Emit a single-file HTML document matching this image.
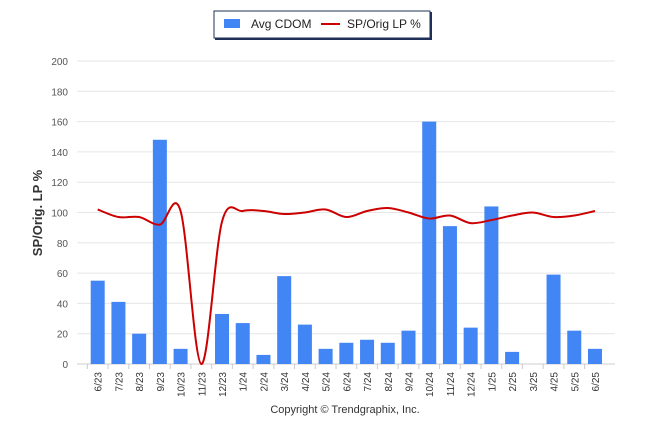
<!DOCTYPE html>
<html><head><meta charset="utf-8"><style>
body{margin:0;background:#fff;font-family:"Liberation Sans",sans-serif;}
svg{display:block}
</style></head><body>
<svg id="chart" width="646" height="434">
<g>
<rect x="215" y="12" width="217" height="28" fill="#1f2f57"/>
<rect x="214" y="11" width="216" height="27" fill="#fff" stroke="#1f2f57" stroke-width="1"/>
<rect x="224" y="19" width="16" height="9" fill="#4285f4"/>
<text x="251" y="28" font-size="12" fill="#222">Avg CDOM</text>
<line x1="321" y1="24" x2="340" y2="24" stroke="#cc0000" stroke-width="2"/>
<text x="347" y="28" font-size="12" fill="#222">SP/Orig LP %</text>
</g>
<g id="grid"></g><g id="bars"></g><g id="line"></g><g id="xlabels"></g>
<text transform="translate(42,213) rotate(-90)" text-anchor="middle" font-size="13" font-weight="bold" fill="#333">SP/Orig. LP %</text>
<text x="345" y="413" text-anchor="middle" font-size="11" fill="#333">Copyright © Trendgraphix, Inc.</text>
</svg>
<script>
const categories=["6/23","7/23","8/23","9/23","10/23","11/23","12/23","1/24","2/24","3/24","4/24","5/24","6/24","7/24","8/24","9/24","10/24","11/24","12/24","1/25","2/25","3/25","4/25","5/25","6/25"];
const cdom=[55,41,20,148,10,0,33,27,6,58,26,10,14,16,14,22,160,91,24,104,8,0,59,22,10];
const spPct=[102,97,97,92,101,0,94,101,101,99,100,102,97,101,103,100,96,98,93,95,98,100,97,98,101];
const yTicks=[0,20,40,60,80,100,120,140,160,180,200];
const NS="http://www.w3.org/2000/svg";
const y=v=>364-v*(303/200);
const x=i=>97.7+i*20.72;
function mk(t,a,p){const e=document.createElementNS(NS,t);for(const k in a)e.setAttribute(k,a[k]);p.appendChild(e);return e;}
const grid=document.getElementById('grid');
yTicks.forEach(t=>{
 const l=mk('line',{x1:77,x2:615,y1:y(t),y2:y(t),stroke:t===0?'#ccc':'#e6e6e6','stroke-width':1},grid);
 
 
 const tx=mk('text',{x:68,y:y(t)+4,'text-anchor':'end','font-size':10,fill:'#555'},grid);
 tx.textContent=t;
 
 
});
const bars=document.getElementById('bars'),xl=document.getElementById('xlabels');
categories.forEach((c,i)=>{
 const b=mk('rect',{x:x(i)-7,y:y(cdom[i]),width:14,height:364-y(cdom[i]),fill:'#4285f4'},bars);
 
 
 const tk=mk('line',{x1:x(i)-10.36,x2:x(i)-10.36,y1:364,y2:369,stroke:'#ccc'},xl);
 
 
 const t=mk('text',{transform:`translate(${x(i)+4},372) rotate(-90)`,'text-anchor':'end','font-size':10,fill:'#333'},xl);
 t.textContent=c;
 
 
});
const pts=spPct.map((v,i)=>[x(i),y(v)]);
let d=`M${pts[0][0]},${pts[0][1]}`;
for(let i=0;i<pts.length-1;i++){
 const p0=pts[Math.max(0,i-1)],p1=pts[i],p2=pts[i+1],p3=pts[Math.min(pts.length-1,i+2)];
 const k=6;
 d+=` C${p1[0]+(p2[0]-p0[0])/k},${p1[1]+(p2[1]-p0[1])/k} ${p2[0]-(p3[0]-p1[0])/k},${p2[1]-(p3[1]-p1[1])/k} ${p2[0]},${p2[1]}`;
}
const ln=mk('path',{d:d,fill:'none',stroke:'#cc0000','stroke-width':2},document.getElementById('line'));


</script>
</body></html>
